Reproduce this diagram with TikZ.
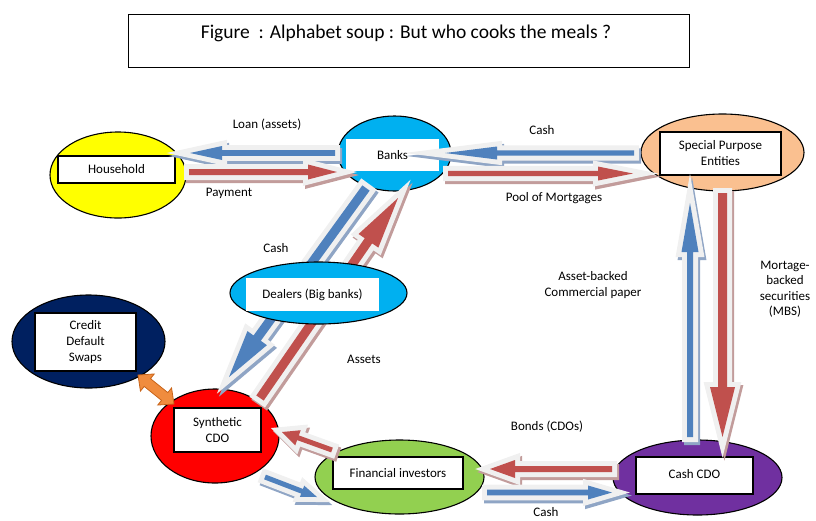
\documentclass[tikz,border=0pt]{standalone}
\usepackage{fontspec}
\setmainfont{Carlito}
\usetikzlibrary{calc,shapes.geometric}
\definecolor{arblue}{HTML}{4F81BD}
\definecolor{arred}{HTML}{C0504D}
\definecolor{shblue}{HTML}{8FA5C5}
\definecolor{shred}{HTML}{C29C9B}
\definecolor{glowc}{HTML}{F0F0F0}
\definecolor{hhyellow}{HTML}{FFFF00}
\definecolor{bkcyan}{HTML}{00B0F0}
\definecolor{spepeach}{HTML}{FAC090}
\definecolor{cdsnavy}{HTML}{002060}
\definecolor{synred}{HTML}{FF0000}
\definecolor{fingreen}{HTML}{92D050}
\definecolor{cashpurple}{HTML}{7030A0}
\definecolor{orfill}{HTML}{F08C3E}
\definecolor{oredge}{HTML}{C8641A}

% #1 fill, #2 shadow, #3 tail, #4 tip, #5 shaft half width, #6 head half width, #7 head length
\newcommand\flowarrow[7]{%
 \coordinate (faS) at #3;
 \coordinate (faE) at #4;
 \coordinate (faH) at ($(faE)!#7!(faS)$);
 \coordinate (fa1) at ($(faS)!#5!90:(faE)$);
 \coordinate (fa2) at ($(faH)!#5!90:(faE)$);
 \coordinate (fa3) at ($(faH)!#6!90:(faE)$);
 \coordinate (fa4) at ($(faH)!#6!-90:(faE)$);
 \coordinate (fa5) at ($(faH)!#5!-90:(faE)$);
 \coordinate (fa6) at ($(faS)!#5!-90:(faE)$);
 \filldraw[#2, line width=10pt, line join=miter, transform canvas={shift={(2,3)}}]
   (fa1)--(fa2)--(fa3)--(faE)--(fa4)--(fa5)--(fa6)--cycle;
 \draw[glowc, line width=10pt, line join=miter]
   (fa1)--(fa2)--(fa3)--(faE)--(fa4)--(fa5)--(fa6)--cycle;
 \fill[#1] (fa1)--(fa2)--(fa3)--(faE)--(fa4)--(fa5)--(fa6)--cycle;
}

\tikzset{
  ell/.style={ellipse, draw=black, line width=1.1pt, inner sep=0pt},
  tbox/.style={rectangle, draw=black, line width=1.2pt, fill=white, inner sep=0pt,
    font=\fontsize{13}{16}\selectfont, align=center},
  wbox/.style={rectangle, fill=white, inner sep=0pt,
    font=\fontsize{13}{16}\selectfont, align=center},
  lbl/.style={inner sep=0pt, font=\fontsize{13}{15.5}\selectfont, align=center},
}

\begin{document}
\begin{tikzpicture}[x=1pt,y=-1pt]
\useasboundingbox (0,0) rectangle (816,520);

% title
\node[draw=black, line width=0.9pt, minimum width=561pt, minimum height=53pt, inner sep=0pt] (titlebox) at (408.5,40.5) {};
\node[inner sep=0pt, font=\fontsize{19.5}{22}\selectfont] (titletext) at (406,33) {Figure \ : Alphabet soup : But who cooks the meals ?};

% ellipses
\node[ell, fill=hhyellow, minimum width=136pt, minimum height=86pt] (household) at (118,175) {};
\node[tbox, minimum width=117pt, minimum height=27pt] (householdbox) at (116.5,169.5) {Household};

\node[ell, fill=bkcyan, minimum width=113pt, minimum height=75pt] (banks) at (394.5,153.5) {};
\node[wbox, minimum width=93pt, minimum height=32pt] (banksbox) at (392.5,155) {Banks};

\node[ell, fill=spepeach, minimum width=163pt, minimum height=77pt] (spe) at (722.5,152.5) {};
\node[tbox, minimum width=121pt, minimum height=43pt] (spebox) at (720.5,153.5) {Special Purpose\\Entities};

\node[ell, fill=cdsnavy, minimum width=153pt, minimum height=93pt] (cds) at (88.5,341.5) {};
\node[tbox, minimum width=101pt, minimum height=58pt] (cdsbox) at (85.5,342) {Credit\\Default\\Swaps};

\node[ell, fill=synred, minimum width=128pt, minimum height=94pt] (syn) at (215,436) {};
\node[tbox, minimum width=87pt, minimum height=44pt] (synbox) at (217.5,430) {Synthetic\\CDO};

\node[ell, fill=fingreen, minimum width=169pt, minimum height=74pt] (fin) at (399.5,477) {};
\node[tbox, minimum width=130pt, minimum height=32pt] (finbox) at (398,473) {Financial investors};

\node[ell, fill=cashpurple, minimum width=169pt, minimum height=75pt] (cashcdo) at (697.5,477.5) {};
\node[tbox, minimum width=117pt, minimum height=37pt] (cashcdobox) at (694.5,475.5) {\raisebox{4pt}{Cash CDO}};

% arrows
\flowarrow{arblue}{shblue}{($(banks)+(-59.5,-0.5)$)}{($(household)+(72,-22)$)}{2.8pt}{7pt}{32pt}
\flowarrow{arred}{shred}{($(household)+(71,-3)$)}{($(banks)+(-57.5,18.5)$)}{3pt}{7.5pt}{29pt}
\flowarrow{arblue}{shblue}{($(spe)+(-88.5,0.5)$)}{($(banks)+(50.5,-0.5)$)}{2.7pt}{6.5pt}{52pt}
\flowarrow{arred}{shred}{($(banks)+(53.5,20)$)}{($(spe)+(-89.5,21)$)}{2.7pt}{7pt}{35pt}
\flowarrow{arblue}{shblue}{($(banks)+(-28.5,34.5)$)}{($(syn)+(14,-59)$)}{4.5pt}{12pt}{48pt}
\flowarrow{arred}{shred}{($(syn)+(45,-38)$)}{($(banks)+(3.5,44.5)$)}{4.5pt}{12pt}{52pt}
\flowarrow{arblue}{shblue}{($(cashcdo)+(-7.5,-40.5)$)}{($(spe)+(-32.5,50.5)$)}{3pt}{8.5pt}{49pt}
\flowarrow{arred}{shred}{($(spe)+(0,40.5)$)}{($(cashcdo)+(25,-40.5)$)}{4.5pt}{12.5pt}{50pt}
\flowarrow{arred}{shred}{($(cashcdo)+(-85.5,-8.5)$)}{($(fin)+(90.5,-8)$)}{3pt}{9pt}{25pt}
\flowarrow{arblue}{shblue}{($(fin)+(87.5,15.5)$)}{($(cashcdo)+(-85.5,15)$)}{2.8pt}{7pt}{24pt}
\flowarrow{arred}{shred}{($(fin)+(-67.5,-27)$)}{($(syn)+(67,-4)$)}{2.5pt}{8pt}{17pt}
\flowarrow{arblue}{shblue}{($(syn)+(50,41)$)}{($(fin)+(-82.5,20)$)}{2.5pt}{6pt}{16pt}

% orange double arrow CDS <-> Synthetic CDO
\coordinate (oA) at ($(cds)+(49.5,33.5)$);
\coordinate (oB) at ($(syn)+(-41,-32)$);
\coordinate (oHA) at ($(oA)!12pt!(oB)$);
\coordinate (oHB) at ($(oB)!12pt!(oA)$);
\filldraw[fill=orfill, draw=oredge, line width=0.8pt, line join=miter]
  (oA) -- ($(oHA)!11pt!90:(oB)$) -- ($(oHA)!5pt!90:(oB)$) -- ($(oHB)!5pt!-90:(oA)$)
  -- ($(oHB)!11pt!-90:(oA)$) -- (oB) -- ($(oHB)!11pt!90:(oA)$) -- ($(oHB)!5pt!90:(oA)$)
  -- ($(oHA)!5pt!-90:(oB)$) -- ($(oHA)!11pt!-90:(oB)$) -- cycle;

% dealers on top of the long diagonals
\node[ell, fill=bkcyan, minimum width=177pt, minimum height=62pt] (dealers) at (318.5,293) {};
\node[wbox, minimum width=133pt, minimum height=33pt] (dealersbox) at (312.5,294.5) {\raisebox{2pt}{Dealers (Big banks)}};

% labels
\node[lbl] (lloan) at (267,125) {Loan (assets)};
\node[lbl] (lpay) at (229,193) {Payment};
\node[lbl] (lcash1) at (542,130) {Cash};
\node[lbl] (lpool) at (554,198) {Pool of Mortgages};
\node[lbl] (lcash2) at (276,248) {Cash};
\node[lbl] (labc) at (593,285) {Asset-backed\\Commercial paper};
\node[lbl] (lmbs) at (785,289) {Mortage-\\backed\\securities\\(MBS)};
\node[lbl] (lassets) at (364,359) {Assets};
\node[lbl] (lbonds) at (547,427) {Bonds (CDOs)};
\node[lbl] (lcash3) at (546,512) {Cash};
\end{tikzpicture}
\end{document}
